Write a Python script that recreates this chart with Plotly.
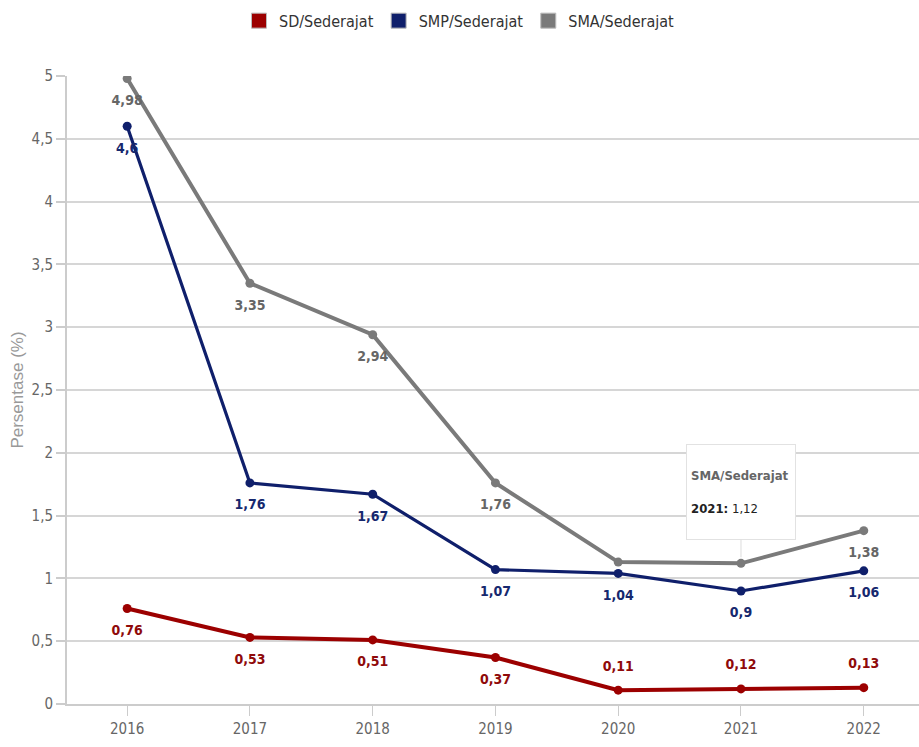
import plotly.graph_objects as go

years = ["2016", "2017", "2018", "2019", "2020", "2021", "2022"]
sd = [0.76, 0.53, 0.51, 0.37, 0.11, 0.12, 0.13]
smp = [4.6, 1.76, 1.67, 1.07, 1.04, 0.90, 1.06]
sma = [4.98, 3.35, 2.94, 1.76, 1.13, 1.12, 1.38]
y_ticks = [0, 0.5, 1, 1.5, 2, 2.5, 3, 3.5, 4, 4.5, 5]

names = ["SD/Sederajat", "SMP/Sederajat", "SMA/Sederajat"]
line_colors = ["#9c0000", "#0f1f6b", "#7a7a7a"]
label_colors = ["#8f0a0a", "#16286e", "#666666"]

FONT = "DejaVu Sans Condensed, Liberation Sans Narrow, sans-serif"


def fmt(v):
    s = f"{v:.2f}".rstrip("0").rstrip(".")
    return s.replace(".", ",")


sd_pos = ["bottom center"] * 4 + ["top center"] * 3
smp_pos = ["bottom center"] * 7
sma_pos = ["bottom center"] * 7
sma_text = [fmt(v) for v in sma]
sma_text[4] = ""
sma_text[5] = ""

series = [
    (sd, [fmt(v) for v in sd], sd_pos, 4),
    (smp, [fmt(v) for v in smp], smp_pos, 3.2),
    (sma, sma_text, sma_pos, 4),
]

fig = go.Figure()
for i, (vals, txt, pos, w) in enumerate(series):
    fig.add_trace(go.Scatter(
        x=years, y=vals, mode="lines+markers",
        name=names[i], legendgroup=names[i], showlegend=False,
        line=dict(color=line_colors[i], width=w),
        marker=dict(color=line_colors[i], size=9),
        hoverinfo="skip",
    ))
    fig.add_trace(go.Scatter(
        x=years, y=vals, mode="text+markers",
        legendgroup=names[i], showlegend=False,
        marker=dict(color="rgba(0,0,0,0)", size=24),
        text=txt, textposition=pos,
        textfont=dict(family=FONT, size=14, color=label_colors[i], weight="bold"),
        hoverinfo="skip",
    ))
for i in range(3):
    fig.add_trace(go.Scatter(
        x=[None], y=[None], mode="markers", name=names[i], legendgroup=names[i],
        marker=dict(symbol="square", size=15, color=line_colors[i],
                    line=dict(color="#bbbbbb", width=1)),
        showlegend=True,
    ))

tip_idx = years.index("2021")
fig.add_annotation(
    x=tip_idx, y=sma[tip_idx], xref="x", yref="y",
    text="<span style='color:#666666'><b>SMA/Sederajat</b></span><br><br><b>"
         + years[tip_idx] + ":</b> " + fmt(sma[tip_idx]),
    showarrow=True, arrowhead=0, arrowcolor="#dddddd", arrowwidth=1,
    ax=0, ay=-71, standoff=6,
    align="left", valign="middle", width=100, height=86,
    bgcolor="white", bordercolor="#e2e2e2", borderwidth=1,
    borderpad=4,
    font=dict(family=FONT, size=13, color="#222222"),
)

fig.update_layout(
    width=919, height=747,
    margin=dict(l=67, r=0, t=76, b=43),
    paper_bgcolor="white", plot_bgcolor="white",
    separators=",.",
    font=dict(family=FONT, size=14, color="#666666"),
    legend=dict(orientation="h", xref="container", yref="container",
                x=0.5, xanchor="center", y=0.995, yanchor="top",
                font=dict(family=FONT, size=16, color="#333333"),
                itemwidth=30, tracegroupgap=0),
    showlegend=True,
    xaxis=dict(
        type="category", range=[-0.49, 6.45],
        showgrid=False, showline=True, linecolor="#cccccc", linewidth=2,
        ticks="outside", ticklen=10, tickcolor="#cccccc", tickwidth=1,
        tickfont=dict(family=FONT, size=15, color="#666666"),
        zeroline=False,
    ),
    yaxis=dict(
        range=[0, 5], tickvals=y_ticks,
        showgrid=True, gridcolor="#d6d6d6", gridwidth=2,
        showline=True, linecolor="#cccccc", linewidth=2,
        ticks="outside", ticklen=9, tickcolor="#cccccc", tickwidth=2,
        tickfont=dict(family=FONT, size=15, color="#666666"),
        zeroline=False,
        title=dict(text="Persentase (%)", standoff=4,
                   font=dict(family="Liberation Sans, Arial, sans-serif", size=17, color="#999999")),
    ),
)

fig.write_html("out.html")
